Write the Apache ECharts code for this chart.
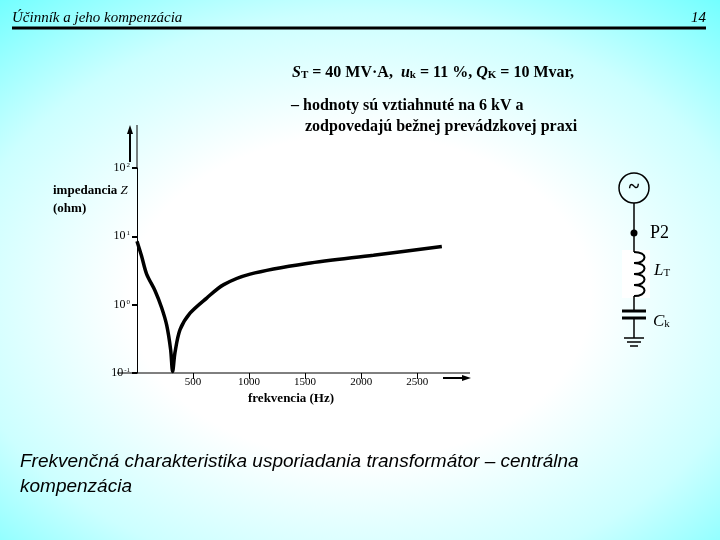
<!DOCTYPE html>
<html>
<head>
<meta charset="utf-8">
<script src="https://cdn.jsdelivr.net/npm/echarts@6/dist/echarts.min.js"></script>
<style>
html,body{margin:0;padding:0;}
#chart{width:720px;height:540px;background:radial-gradient(ellipse 80% 75% at 50% 55%, #ffffff 40%, #ccffff 70%, #66ffff 100%);}
</style>
</head>
<body>
<div id="chart"></div>
<script>
// frekvencia (Hz) a impedancia Z (ohm), odčítané z obrázka
var freq = [0, 40, 86, 161, 220, 265, 300, 318, 339, 384, 473, 622, 770, 1009, 1515, 2110, 2720];
var impedance = [8.5, 5.2, 2.8, 1.6, 0.9, 0.5, 0.22, 0.105, 0.2, 0.43, 0.75, 1.25, 1.95, 2.8, 4.0, 5.3, 7.1];
var xTicks = [500, 1000, 1500, 2000, 2500];
var yTicks = {0.1: '-1', 1: '0', 10: '1', 100: '2'};

var chart = echarts.init(document.getElementById('chart'));
var pts = [];
for (var i = 0; i < freq.length; i++) pts.push([freq[i], impedance[i]]);

var serif = 'Liberation Serif';
var txt = function(x, y, s, opt){
    var st = {text: s, x: x, y: y, font: (opt && opt.font) || 'bold 16px "Liberation Serif"', fill: '#000'};
    if (opt && opt.align) st.align = opt.align;
    if (opt && opt.rich) st.rich = opt.rich;
    return {type: 'text', style: st, z: 10};
};
var line = function(x1, y1, x2, y2, w){
    return {type: 'line', shape: {x1: x1, y1: y1, x2: x2, y2: y2}, style: {stroke: '#000', lineWidth: w || 1}, z: 10};
};
var coil = function(y){
    return {type: 'bezierCurve', shape: {x1: 634, y1: y, cpx1: 648, cpy1: y, cpx2: 648, cpy2: y + 11, x2: 634, y2: y + 11},
        style: {stroke: '#000', fill: null, lineWidth: 2}, z: 10};
};

var option = {
    animation: false,
    grid: {left: 137, top: 168, width: 325, height: 205},
    xAxis: {
        type: 'value', min: 0, max: 2900, interval: 500,
        axisLine: {show: false},
        axisTick: {show: true, length: 6, customValues: xTicks, lineStyle: {color: '#000'}},
        splitLine: {show: false},
        axisLabel: {
            color: '#000', fontFamily: serif, fontSize: 11, margin: 4,
            customValues: xTicks,
            formatter: function(v){ return String(v); }
        }
    },
    yAxis: {
        type: 'log', min: 0.1, max: 100, logBase: 10,
        axisLine: {show: true, lineStyle: {color: '#000', width: 1}},
        axisTick: {show: true, inside: false, length: 5, lineStyle: {color: '#000', width: 2}},
        splitLine: {show: false},
        axisLabel: {
            color: '#000', fontFamily: serif, fontSize: 12, margin: 7,
            formatter: function(v){ return '10{s|' + yTicks[v] + '}'; },
            rich: {s: {fontSize: 7, verticalAlign: 'top', padding: [0, 0, 6, 1], fontFamily: serif}}
        }
    },
    series: [{
        type: 'line', data: pts, smooth: 0.3, symbol: 'none',
        lineStyle: {color: '#000', width: 3.5}
    }],
    graphic: [
        // hlavička
        txt(12, 11, 'Účinník a jeho kompenzácia', {font: 'italic 15px "Liberation Serif"'}),
        txt(706, 11, '14', {font: 'italic 15px "Liberation Serif"', align: 'right'}),
        line(12, 28, 706, 28, 3),
        // parametre
        txt(292, 64, '{i|S}{sb|T} = 40 MV·A,  {i|u}{sb|k} = 11 %, {i|Q}{sb|K} = 10 Mvar,', {rich: {
            i: {font: 'bold italic 16px "Liberation Serif"'},
            sb: {font: 'bold 11px "Liberation Serif"', verticalAlign: 'bottom', padding: [6, 0, 0, 0]}
        }}),
        txt(291, 98, '– hodnoty sú vztiahnuté na 6 kV a', {}),
        txt(305, 119, 'zodpovedajú bežnej prevádzkovej praxi', {}),
        // osi
        line(137, 168, 137, 125, 1),
        line(130, 162, 130, 128, 2),
        {type: 'polygon', shape: {points: [[127, 134], [133, 134], [130, 125]]}, style: {fill: '#000'}, z: 10},
        line(117, 373, 470, 373, 1),
        line(443, 378, 465, 378, 2),
        {type: 'polygon', shape: {points: [[462, 375], [462, 381], [471, 378]]}, style: {fill: '#000'}, z: 10},
        txt(53, 184, 'impedancia {i|Z}', {font: 'bold 13px "Liberation Serif"', rich: {i: {font: 'italic 13px "Liberation Serif"'}}}),
        txt(53, 202, '(ohm)', {font: 'bold 13px "Liberation Serif"'}),
        txt(248, 392, 'frekvencia (Hz)', {font: 'bold 13px "Liberation Serif"'}),
        // schéma
        {type: 'circle', shape: {cx: 634, cy: 188, r: 15}, style: {stroke: '#000', fill: null, lineWidth: 1.5}, z: 10},
        txt(634, 178, '~', {font: 'bold 20px "Liberation Serif"', align: 'center'}),
        line(634, 203, 634, 252, 1.5),
        {type: 'circle', shape: {cx: 634, cy: 233, r: 3.5}, style: {fill: '#000'}, z: 10},
        txt(650, 224, 'P2', {font: '18px "Liberation Serif"'}),
        {type: 'rect', shape: {x: 622, y: 250, width: 28, height: 48}, style: {fill: '#fff'}, z: 9},
        coil(252), coil(263), coil(274), coil(285),
        txt(654, 262, '{i|L}{s|T}', {rich: {i: {font: 'italic 17px "Liberation Serif"'}, s: {font: '11px "Liberation Serif"', verticalAlign: 'bottom', padding: [6, 0, 0, 0]}}}),
        line(634, 296, 634, 311, 1.5),
        line(622, 311, 646, 311, 3),
        line(622, 318, 646, 318, 3),
        line(634, 318, 634, 338, 1.5),
        line(624, 338, 644, 338, 1.5),
        line(627, 342, 641, 342, 1.5),
        line(630, 346, 638, 346, 1.5),
        txt(653, 313, '{i|C}{s|k}', {rich: {i: {font: 'italic 17px "Liberation Serif"'}, s: {font: '11px "Liberation Serif"', verticalAlign: 'bottom', padding: [6, 0, 0, 0]}}}),
        // popis
        txt(20, 452, 'Frekvenčná charakteristika usporiadania transformátor – centrálna', {font: 'italic 19px "Liberation Sans"'}),
        txt(20, 477, 'kompenzácia', {font: 'italic 19px "Liberation Sans"'})
    ]
};
chart.setOption(option);
</script>
</body>
</html>
